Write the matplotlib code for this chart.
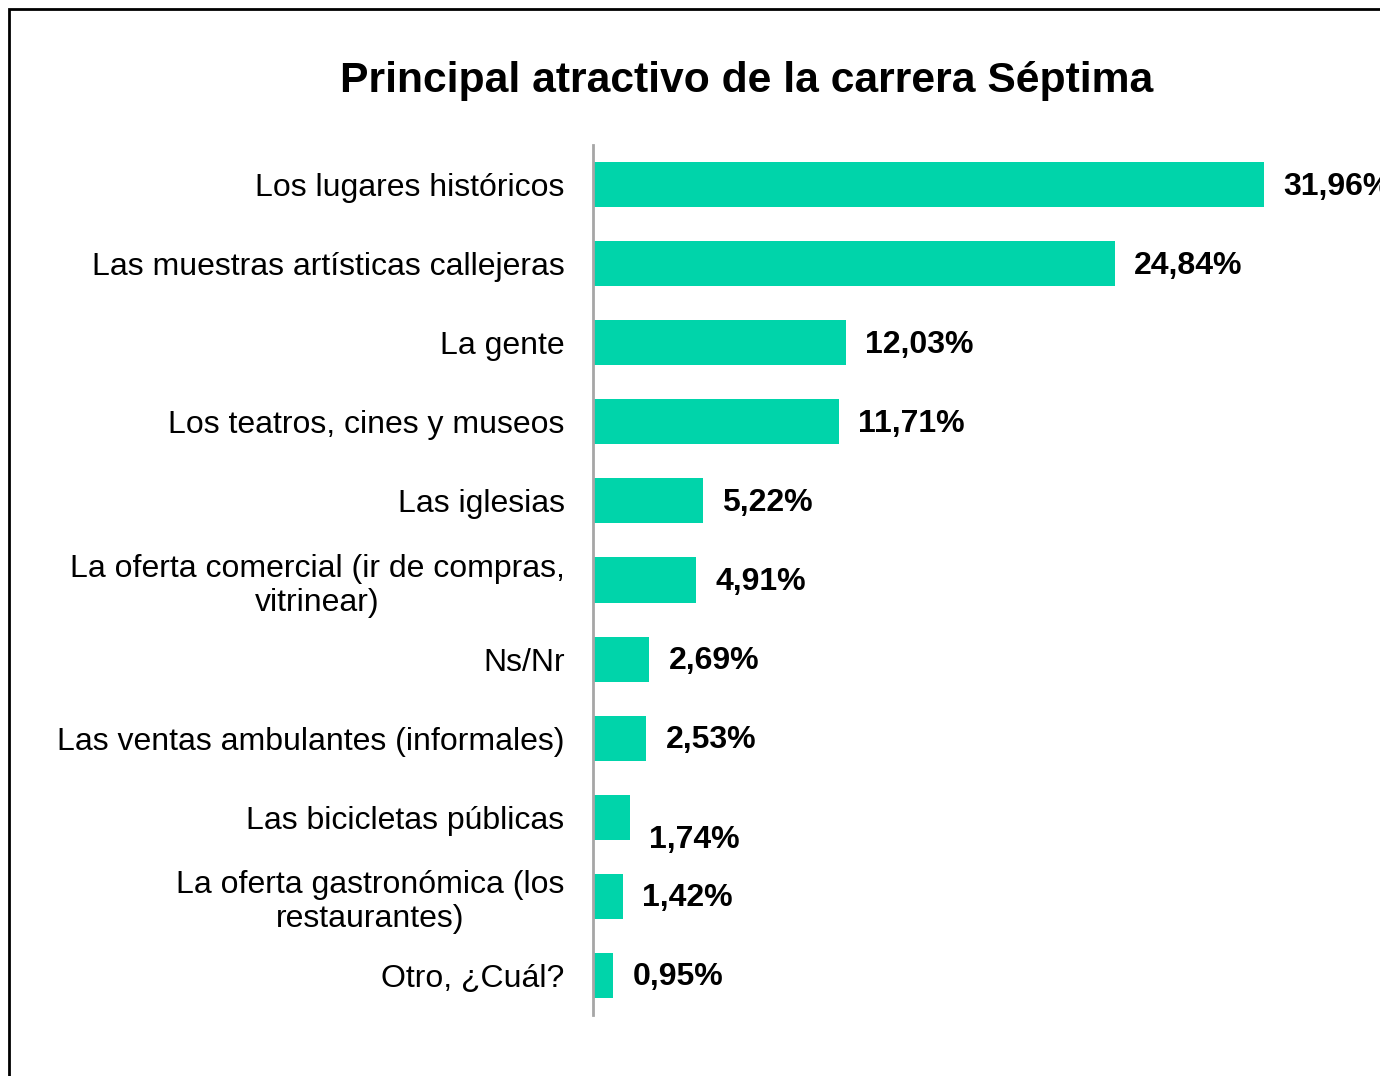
import matplotlib
matplotlib.use("Agg")
import matplotlib.pyplot as plt
from matplotlib.patches import Rectangle

plt.rcParams['font.family'] = ['Liberation Sans', 'DejaVu Sans']

title = "Principal atractivo de la carrera Séptima"
categories = [
    "Los lugares históricos",
    "Las muestras artísticas callejeras",
    "La gente",
    "Los teatros, cines y museos",
    "Las iglesias",
    "La oferta comercial (ir de compras,\nvitrinear)",
    "Ns/Nr",
    "Las ventas ambulantes (informales)",
    "Las bicicletas públicas",
    "La oferta gastronómica (los\nrestaurantes)",
    "Otro, ¿Cuál?",
]
values = [31.96, 24.84, 12.03, 11.71, 5.22, 4.91, 2.69, 2.53, 1.74, 1.42, 0.95]
value_labels = ["31,96%", "24,84%", "12,03%", "11,71%", "5,22%", "4,91%",
                "2,69%", "2,53%", "1,74%", "1,42%", "0,95%"]
label_dy_px = [2, 2, 2, 2, 2, 2, 2, 2, 23, 2, 2]

W, H = 1380, 1076
fig = plt.figure(figsize=(W / 100, H / 100), dpi=100)

ax_left, ax_right = 593, 1380
ax_top, ax_bottom = 145, 1015
ax = fig.add_axes([ax_left / W, 1 - ax_bottom / H, (ax_right - ax_left) / W, (ax_bottom - ax_top) / H])

px_per_unit = 671 / 31.96
ax.set_xlim(0, (ax_right - ax_left) / px_per_unit)
ax.set_ylim(len(values) - 0.5, -0.5)

y = list(range(len(values)))
ax.barh(y, values, height=0.57, color="#00D4AA", edgecolor="none", zorder=2)

for sp in ["top", "right", "bottom"]:
    ax.spines[sp].set_visible(False)
ax.spines["left"].set_color("#A6A6A6")
ax.spines["left"].set_linewidth(2)
ax.spines["left"].set_zorder(3)
ax.set_xticks([])
ax.set_yticks(y)
ax.set_yticklabels(categories, fontsize=23, color="black", multialignment="center")
ax.tick_params(axis="y", length=0, pad=20.5)

for i, (v, lab) in enumerate(zip(values, value_labels)):
    ax.annotate(lab, xy=(v, i), xytext=(14, -label_dy_px[i] * 0.72), textcoords="offset points",
                ha="left", va="center", fontsize=23, fontweight="bold", color="black",
                annotation_clip=False)

fig.text(747 / W, 1 - 81 / H, title, ha="center", va="center", fontsize=30.7, fontweight="bold")

fig.patches.append(Rectangle((9 / W, -0.05), 1.1, 1 - 9 / H + 0.05, transform=fig.transFigure,
                             fill=False, edgecolor="black", linewidth=2))

fig.savefig("out.png", dpi=100)
